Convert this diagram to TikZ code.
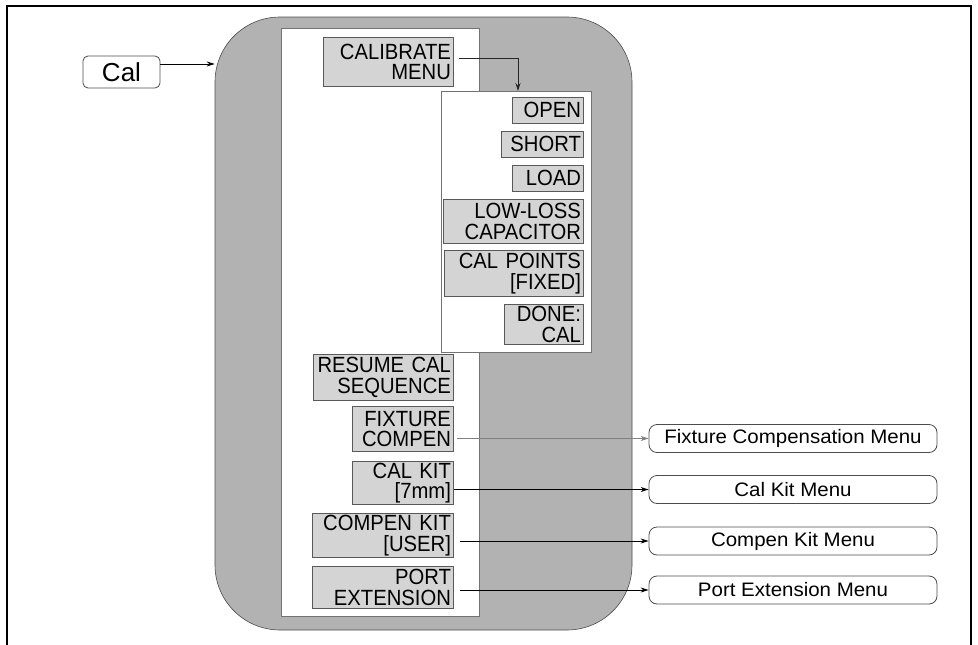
\documentclass[tikz,border=0pt]{standalone}
\usepackage{fontspec}
\setmainfont{Liberation Sans}
\newfontfamily\menufont[FakeStretch=1.05]{Liberation Sans}
\newfontfamily\btnfont[FakeStretch=0.92]{Liberation Sans}
\usetikzlibrary{arrows.meta}
\newcommand\mybtn[6]{\node[btn, minimum width={#4pt-#2pt}, text width={#4pt-#2pt-5pt}, minimum height={#5pt-#3pt}] (#1) at (#2,#3) {#6};}
\begin{document}
\begin{tikzpicture}[x=1pt,y=-1pt,
  btn/.style={draw=black!65, fill=black!17, line width=0.8pt, align=right, inner xsep=2.5pt, inner ysep=0pt, anchor=north west, font=\btnfont\fontsize{22}{20.5}\selectfont},
  menubox/.style={draw=black!70, line width=0.8pt, rounded corners=8pt, minimum width=288pt, minimum height=28pt, font=\menufont\fontsize{19.5}{20}\selectfont, inner sep=0pt},
  arr/.style={-{Stealth[length=8pt,width=5pt]}, line width=0.8pt},
]
\useasboundingbox (0,0) rectangle (978,645);
\draw[line width=2pt] (7,645) -- (7,6) -- (971,6) -- (971,645);
% gray region and panels
\node[draw=black!70, fill=black!30, rounded corners=65pt, minimum width=417pt, minimum height=613pt, inner sep=0pt, line width=0.6pt] (panel) at (423.5,323.5) {};
\node[draw=black!55, fill=white, minimum width=198pt, minimum height=588pt, inner sep=0pt, line width=0.8pt] (inner) at (380,322) {};
\node[draw=black!55, fill=white, minimum width=150pt, minimum height=261pt, inner sep=0pt, line width=0.8pt] (sub) at (516,221.5) {};
% Cal key
\node[draw=black!70, rounded corners=5pt, minimum width=77pt, minimum height=32pt, inner sep=0pt, line width=0.8pt, font=\fontsize{26}{28}\selectfont] (cal) at (121.5,72) {Cal};
% buttons
\mybtn{calm}{323}{37}{453}{86}{CALIBRATE\\MENU}
\mybtn{open}{512}{97}{583}{123}{OPEN}
\mybtn{short}{501}{131}{583}{157}{SHORT}
\mybtn{load}{512}{165}{583}{191}{LOAD}
\mybtn{lowloss}{443}{199}{583}{243}{LOW-LOSS\\CAPACITOR}
\mybtn{calpts}{444}{250}{583}{296}{CAL POINTS\\{}[FIXED]}
\mybtn{done}{504}{304}{583}{344}{DONE:\\CAL}
\mybtn{resume}{313}{354}{453}{400}{RESUME CAL\\SEQUENCE}
\mybtn{fix}{352}{406}{453}{451}{FIXTURE\\COMPEN}
\mybtn{calkit}{352}{461}{453}{504}{CAL KIT\\{}[7mm]}
\mybtn{compen}{312}{513}{453}{557}{COMPEN KIT\\{}[USER]}
\mybtn{port}{312}{566}{453}{608}{PORT\\EXTENSION}
% menu boxes
\node[menubox] (fixm) at (793,438.5) {Fixture Compensation Menu};
\node[menubox] (calkitm) at (793,489.5) {Cal Kit Menu};
\node[menubox] (compenm) at (793,541) {Compen Kit Menu};
\node[menubox] (portm) at (793,590) {Port Extension Menu};
% connectors
\coordinate (calout) at ([yshift=8pt]cal.east);
\draw[arr] (calout) -- (calout -| panel.west);
\coordinate (subin) at (518,91);
\draw[arr, black!85] ([xshift=5pt,yshift=3.5pt]calm.east) -| (subin);
\draw[arr, black!50, shorten <=3pt] (fix.east |- fixm.west) -- (fixm.west);
\draw[arr] (calkit.east |- calkitm.west) -- (calkitm.west);
\draw[arr, shorten <=6pt] (compen.east |- compenm.west) -- (compenm.west);
\draw[arr, shorten <=6pt] (port.east |- portm.west) -- (portm.west);
\end{tikzpicture}
\end{document}
